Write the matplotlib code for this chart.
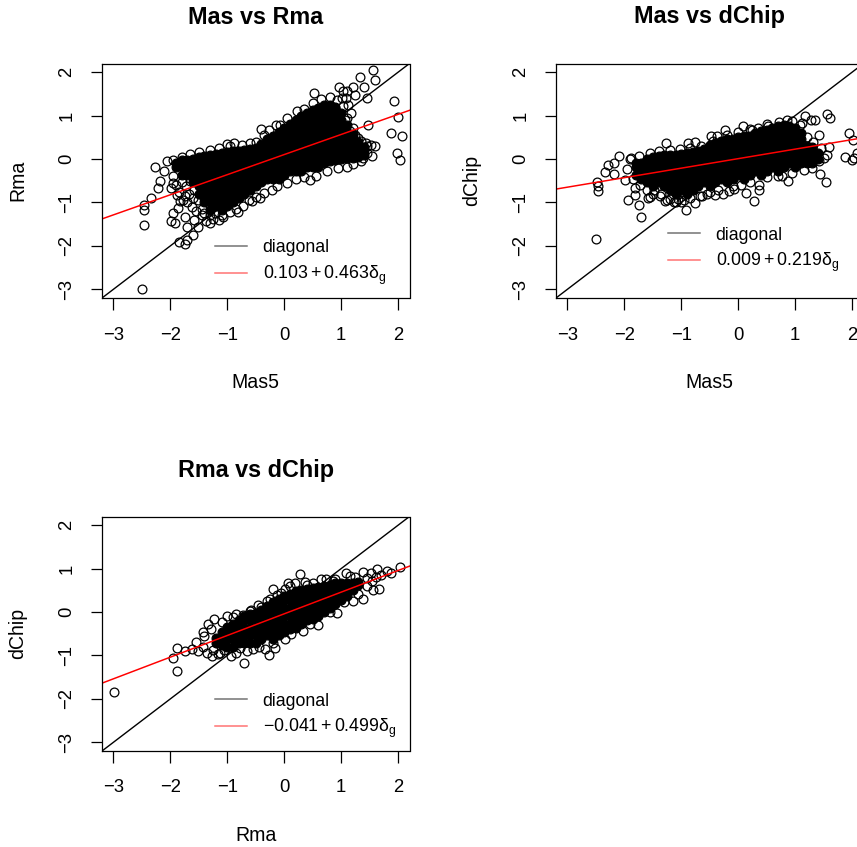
import matplotlib
matplotlib.use("Agg")
import matplotlib.pyplot as plt
from matplotlib.lines import Line2D

plt.rcParams['font.family'] = ['Liberation Sans', 'DejaVu Sans']
plt.rcParams['mathtext.fontset'] = 'custom'
plt.rcParams['mathtext.rm'] = 'Liberation Sans'
plt.rcParams['mathtext.it'] = 'Liberation Sans'
plt.rcParams['mathtext.bf'] = 'Liberation Sans:bold'
plt.rcParams['mathtext.fallback'] = 'stixsans'
plt.rcParams['mathtext.default'] = 'regular'

W, H = 857, 847
TICKS = [-3, -2, -1, 0, 1, 2]

# ---------- Mas vs Rma ----------
mr_columns = [-1.9, -1.8, -1.7, -1.6, -1.5, -1.4, -1.3, -1.2, -1.1, -1.0, -0.9, -0.8, -0.7, -0.6, -0.5,
              -0.4, -0.3, -0.2, -0.1, 0.0, 0.1, 0.2, 0.3, 0.4, 0.5, 0.6, 0.7, 0.8, 0.9, 1.0, 1.1, 1.2, 1.3, 1.4]
mr_core = [
    [-.18, -.09], [-.36, -.18, -.03], [-.36, -.27, -.09, -.02], [-.54, -.36, -.18, 0],
    [-.81, -.63, -.45, -.27, -.09, .05], [-1.0, -.90, -.72, -.54, -.36, -.18, 0, .08],
    [-1.17, -.99, -.81, -.63, -.45, -.27, -.09, .09], [-1.08, -.9, -.72, -.54, -.36, -.18, 0, .12],
    [-1.17, -.99, -.81, -.63, -.45, -.27, -.09, .09, .15], [-1.08, -.9, -.72, -.54, -.36, -.18, 0, .17],
    [-.99, -.81, -.63, -.45, -.27, -.09, .09, .18], [-.9, -.72, -.54, -.36, -.18, 0, .18],
    [-.81, -.63, -.45, -.27, -.09, .09, .2], [-.72, -.54, -.36, -.18, 0, .18, .22],
    [-.63, -.45, -.27, -.09, .09, .25], [-.54, -.36, -.18, 0, .18, .35],
    [-.45, -.27, -.09, .09, .27, .45], [-.45, -.36, -.18, 0, .18, .36, .54],
    [-.45, -.27, -.09, .09, .27, .45, .63], [-.36, -.18, 0, .18, .36, .54, .72],
    [-.27, -.09, .09, .27, .45, .63, .81], [-.27, -.18, 0, .18, .36, .54, .72, .9],
    [-.27, -.09, .09, .27, .45, .63, .81, .99], [-.18, 0, .18, .36, .54, .72, .9, 1.05],
    [-.18, -.09, .09, .27, .45, .63, .81, .99, 1.12], [-.18, 0, .18, .36, .54, .72, .9, 1.08, 1.18],
    [-.09, .09, .27, .45, .63, .81, .99, 1.17, 1.25], [-.05, 0, .18, .36, .54, .72, .9, 1.08, 1.25],
    [-.03, .09, .27, .45, .63, .81, .99, 1.17, 1.2], [0, .18, .36, .54, .72, .9, 1.05],
    [.02, .09, .27, .45, .63, .78], [.02, .18, .36, .5, .58], [.05, .09, .27, .4], [.1, .2, .28],
]
mr_ring_x = [-2.49, -2.46, -2.46, -2.47, -2.34, -2.21, -2.18, -2.27, -2.11, -2.05, -1.98, -1.92, -1.96, -1.84, -1.74,
             -1.70, -1.60, -1.71, -1.51, -1.58, -1.74, -1.86, -1.83, -1.88, -1.98, -1.95, -1.30, -1.07, -0.81, -0.57,
             -0.42, -0.22, 0.45, 1.11, -1.01, -0.88, -0.50, -0.41, -0.27, -0.08, 0.53, 0.96, 1.04, 1.11, 1.21,
             1.24, 1.09, 1.01, 1.46, 1.40, 1.33, 1.56, 1.60, 1.17, 1.06, 1.47, 1.21, 1.30, 1.12, 1.93,
             2.00, 1.87, 2.07, 1.98, 2.03, 1.59, 1.53, 1.44, 1.55, 1.39,
             -1.95, -1.90, -1.85, -1.75, -1.70, -1.62, -1.55, -1.45, -1.38, -1.25, -1.15, -0.95, -0.85, -0.72, -0.62,
             -0.50, -0.35, -0.12, 0.05, 0.20, 0.35, 0.55, 0.75, 0.95, 1.20, 1.35, 1.45,
             -1.95, -1.80, -1.65, -1.50, -1.30, -1.15, -0.95, -0.75, -0.60, -0.35, -0.15, 0.05, 0.22, 0.35, 0.50,
             0.65, 0.80, 0.92, 1.03, 1.10, 1.15, 1.25, 1.35, 1.45,
             -1.80, -1.72, -1.66, -1.58, -1.52, -1.78, -1.68, -1.60, -1.45, -1.40, -1.30, -1.22, -1.10]
mr_ring_y = [-3.00, -1.53, -1.17, -1.05, -0.90, -0.67, -0.51, -0.19, -0.27, -0.05, -1.43, -1.47, -1.24, -1.91, -1.95,
             -1.86, -1.74, -1.57, -1.57, -1.40, -1.34, -1.13, -0.97, -0.82, -0.67, -0.55, -1.47, -1.34, -1.22, -0.97,
             -0.90, -0.71, -0.48, -0.19, 0.35, 0.37, 0.39, 0.70, 0.67, 0.79, 1.52, 1.67, 1.56, 1.57, 1.66,
             1.48, 1.40, 1.40, 1.40, 1.66, 1.89, 2.06, 1.83, 1.06, 0.90, 0.79, 0.71, 0.48, 1.25, 1.33,
             0.97, 0.61, 0.54, 0.14, -0.02, 0.29, 0.33, 0.37, 0.06, 0.02,
             -0.40, -0.60, -0.75, -0.85, -1.00, -1.10, -1.20, -1.30, -1.42, -1.38, -1.40, -1.22, -1.15, -1.08, -0.95,
             -0.88, -0.78, -0.62, -0.55, -0.47, -0.42, -0.38, -0.28, -0.20, -0.12, -0.05, 0.15,
             -0.02, 0.05, 0.12, 0.17, 0.20, 0.25, 0.30, 0.32, 0.36, 0.55, 0.78, 0.95, 1.10, 1.15, 1.30,
             1.38, 1.42, 1.36, 1.22, 0.95, 0.65, 0.55, 0.42, 0.30,
             -0.52, -0.62, -0.50, -0.72, -0.95, -0.95, -0.80, -0.90, -1.15, -1.25, -1.30, -1.25, -1.28]

# ---------- Mas vs dChip ----------
md_columns = [-1.8, -1.7, -1.6, -1.5, -1.4, -1.3, -1.2, -1.1, -1.0, -0.9, -0.8, -0.7, -0.6, -0.5, -0.4, -0.3, -0.2,
              -0.1, 0.0, 0.1, 0.2, 0.3, 0.4, 0.5, 0.6, 0.7, 0.8, 0.9, 1.0, 1.1, 1.2, 1.3, 1.4]
md_core = [
    [-.36, -.18, -.08], [-.45, -.27, -.09], [-.54, -.36, -.18, 0], [-.63, -.45, -.27, -.09, .05],
    [-.54, -.36, -.18, 0, .08], [-.63, -.45, -.27, -.09, .09], [-.72, -.54, -.36, -.18, 0, .1],
    [-.81, -.63, -.45, -.27, -.09, .1], [-.72, -.54, -.36, -.18, 0, .12], [-.81, -.63, -.45, -.27, -.09, .09, .14],
    [-.72, -.54, -.36, -.18, 0, .16], [-.63, -.45, -.27, -.09, .09, .18], [-.54, -.36, -.18, 0, .18, .22],
    [-.63, -.45, -.27, -.09, .09, .27, .33], [-.54, -.36, -.18, 0, .18, .36], [-.45, -.27, -.09, .09, .27, .42],
    [-.54, -.36, -.18, 0, .18, .36, .45], [-.45, -.27, -.09, .09, .27, .45], [-.36, -.18, 0, .18, .36, .5],
    [-.45, -.27, -.09, .09, .27, .45, .52], [-.36, -.18, 0, .18, .36, .54], [-.27, -.09, .09, .27, .45, .6],
    [-.36, -.18, 0, .18, .36, .54, .65], [-.27, -.09, .09, .27, .45, .63, .68], [-.18, 0, .18, .36, .54, .72],
    [-.27, -.09, .09, .27, .45, .63, .75], [-.18, 0, .18, .36, .54, .72, .78], [-.09, .09, .27, .45, .63, .75],
    [-.18, 0, .18, .36, .54, .72], [-.09, .09, .27, .45, .6], [-.1, 0, .18, .3], [-.09, .09, .27], [0, .14],
]
md_ring_x = [-2.49, -2.46, -2.47, -2.48, -2.34, -2.19, -2.28, -2.19, -2.09, -1.88, -1.99, -1.93, -1.74, -1.70, -1.82,
             -1.81, -1.58, -1.29, -1.09, -0.92, -0.76, -0.64, -0.26, -0.16, 0.04, 0.13, 0.27, 0.36, 0.36, 0.87,
             0.77, 1.43, 1.54, -1.27, -0.89, -0.76, -0.48, -0.38, -0.24, 0.09, 0.21, 0.34, 0.52, 0.86, 1.18,
             1.27, 1.35, 1.12, 1.56, 1.61, 1.41, 1.94, 2.02, 1.87, 1.99, 2.03, 2.09, 1.59, 1.56, 1.50,
             -1.95, -1.85, -1.72, -1.60, -1.50, -1.38, -1.20, -1.05, -0.85, -0.68, -0.50, -0.35, -0.10, 0.20, 0.50,
             0.70, 0.95, 1.15, 1.30, 1.42, -1.90, -1.75, -1.55, -1.40, -1.20, -1.02, -0.85, -0.65, -0.45, -0.20,
             0.00, 0.25, 0.50, 0.72, 0.95, 1.08, 1.20, 1.32, 1.45,
             -1.55, -1.48, -1.35, -1.25, -1.12, -1.00, -0.95, -0.55, -0.40, -0.08]
md_ring_y = [-1.83, -0.73, -0.61, -0.53, -0.30, -0.34, -0.13, -0.09, 0.08, 0.02, -0.48, -0.94, -1.05, -1.34, -0.67,
             -0.82, -0.90, -0.97, -1.00, -1.17, -1.01, -0.86, -0.80, -0.73, -0.59, -0.78, -0.96, -0.71, -0.59, -0.50,
             -0.40, -0.34, -0.52, 0.36, 0.37, 0.39, 0.54, 0.52, 0.67, 0.77, 0.70, 0.71, 0.77, 0.89, 0.98,
             0.90, 0.89, 0.83, 1.04, 0.94, 0.56, 0.61, 0.43, 0.04, -0.02, 0.02, 0.14, 0.28, 0.10, 0.02,
             -0.22, -0.45, -0.60, -0.72, -0.80, -0.85, -0.92, -0.93, -0.90, -0.85, -0.75, -0.72, -0.62, -0.52, -0.42,
             -0.38, -0.32, -0.25, -0.20, -0.05, 0.00, 0.08, 0.15, 0.18, 0.20, 0.22, 0.26, 0.30, 0.42, 0.55,
             0.62, 0.68, 0.80, 0.85, 0.88, 0.78, 0.50, 0.40, 0.25,
             -0.88, -0.72, -0.80, -0.95, -0.98, -0.98, -0.95, -0.80, -0.82, -0.68]

# ---------- Rma vs dChip ----------
rd_columns = [-1.2, -1.1, -1.0, -0.9, -0.8, -0.7, -0.6, -0.5, -0.4, -0.3, -0.2, -0.1, 0.0, 0.1, 0.2, 0.3, 0.4, 0.5,
              0.6, 0.7, 0.8, 0.9, 1.0, 1.1, 1.2, 1.3]
rd_core = [
    [-.72, -.6], [-.75, -.6, -.45], [-.8, -.62, -.44, -.35], [-.81, -.63, -.45, -.27], [-.72, -.54, -.36, -.18],
    [-.72, -.54, -.36, -.18, -.1], [-.72, -.54, -.36, -.18, -.05], [-.72, -.54, -.36, -.18, -.02],
    [-.63, -.45, -.27, -.09, .05], [-.54, -.36, -.18, 0, .15], [-.63, -.45, -.27, -.09, .09, .22],
    [-.54, -.36, -.18, 0, .18, .3], [-.45, -.27, -.09, .09, .27, .36], [-.4, -.27, -.09, .09, .27, .42],
    [-.36, -.18, 0, .18, .36, .48], [-.27, -.09, .09, .27, .45, .5], [-.18, 0, .18, .36, .54],
    [-.16, -.03, .09, .27, .45, .55], [-.08, .09, .27, .45, .58], [0, .18, .36, .54, .6], [.1, .27, .45, .63],
    [.18, .36, .54, .66], [.28, .45, .63, .68], [.36, .54, .68], [.5, .66], [.62, .7],
]
rd_ring_x = [-2.99, -1.88, -1.95, -1.89, -1.74, -0.70, -0.27, -0.34, -1.27, -1.16, -0.94, -1.43, -1.33, -1.23, -1.01,
             -0.85, -0.58, -0.46, -0.31, -0.20, -0.05, 0.07, 0.19, 0.27, 0.36, 0.64, 0.73, 1.08, 1.39, 1.53,
             1.63, 1.81, 1.88, 2.03, 1.67, 1.56, 1.39, 1.20, 0.92, 0.60, 0.33, 0.01, -0.16,
             -1.62, -1.52, -1.42, -1.35, -1.25, -1.12, -1.05, -0.85, -0.78, -0.65, -0.55, -0.45, -0.20, 0.12, 0.45,
             0.80, 1.05, 1.30, 1.45, 1.55, 1.62, 1.70, 1.45, 1.25, 1.15, 0.90, 0.50, 0.10, -0.12,
             -1.55, -1.40, -1.28, -1.10, -0.90, -0.72, -0.60, -0.40, -0.25, 0.02, 0.40, 0.85]
rd_ring_y = [-1.83, -1.35, -1.05, -0.82, -0.90, -1.17, -0.98, -0.86, -1.01, -0.97, -1.01, -0.46, -0.28, -0.17, -0.10,
             -0.04, 0.04, 0.16, 0.25, 0.52, 0.44, 0.67, 0.67, 0.87, 0.70, 0.77, 0.77, 0.90, 0.92, 0.89,
             1.00, 0.94, 0.89, 1.04, 0.54, 0.51, 0.31, 0.25, -0.03, -0.30, -0.44, -0.63, -0.82,
             -0.85, -0.90, -0.80, -0.95, -0.88, -0.95, -0.88, -0.95, -0.82, -0.90, -0.85, -0.80, -0.72, -0.50, -0.28,
             0.00, 0.22, 0.42, 0.60, 0.72, 0.80, 0.85, 0.78, 0.80, 0.82, 0.76, 0.68, 0.60, 0.40,
             -0.70, -0.55, -0.40, -0.22, -0.12, -0.06, 0.02, 0.12, 0.30, 0.52, 0.62, 0.72]

titles = ["Mas vs Rma", "Mas vs dChip", "Rma vs dChip"]
xlabels = ["Mas5", "Mas5", "Rma"]
ylabels = ["Rma", "dChip", "dChip"]
intercepts = [0.103, 0.009, -0.041]
slopes = [0.463, 0.219, 0.499]
fit_labels = [r"$0.103+0.463\delta_{g}$", r"$0.009+0.219\delta_{g}$", r"$-0.041+0.499\delta_{g}$"]
diag_label = "diagonal"

panel_boxes = [(102, 63.5), (556, 63.5), (102, 516.5)]
legend_tops = [182 - 6, 169 - 6, 182 - 6]
legend_lefts = [113, 112, 113]
PW, PH = 307.5, 234.5

panels = [
    (mr_columns, mr_core, mr_ring_x, mr_ring_y),
    (md_columns, md_core, md_ring_x, md_ring_y),
    (rd_columns, rd_core, rd_ring_x, rd_ring_y),
]

fig = plt.figure(figsize=(W / 72, H / 72), dpi=72)
for i, (cols, core, rx, ry) in enumerate(panels):
    left, top = panel_boxes[i]
    ax = fig.add_axes([left / W, 1 - (top + PH) / H, PW / W, PH / H])
    ax.set_xlim(-3.2, 2.2)
    ax.set_ylim(-3.2, 2.2)
    # dense centre of the cloud, solid where the original's circles overlap to black
    cx = [c for c, ys in zip(cols, core) for _ in ys]
    cy = [y for ys in core for y in ys]
    ax.plot(cx, cy, ls='none', marker='o', ms=8.8, mfc='black', mec='black', mew=1.25)
    ax.plot(rx, ry, ls='none', marker='o', ms=8.8, mfc='none', mec='black', mew=1.25)
    ax.axline((0, 0), slope=1, color='black', lw=1.4)
    ax.axline((0, intercepts[i]), slope=slopes[i], color='#ff0000', lw=1.5)

    ax.set_xticks(TICKS)
    ax.set_yticks(TICKS)
    ax.set_xticklabels([str(t).replace('-', '\u2212') for t in TICKS])
    ax.set_yticklabels([str(t).replace('-', '\u2212') for t in TICKS], rotation=90, va='center')
    ax.tick_params(axis='both', length=11.5, width=1.25, labelsize=18.5)
    ax.tick_params(axis='x', pad=17)
    ax.tick_params(axis='y', pad=15)
    for s in ax.spines.values():
        s.set_linewidth(1.25)
    ax.set_title(titles[i], fontsize=23.4, fontweight='bold', pad=40)
    ax.set_xlabel(xlabels[i], fontsize=19.5)
    ax.xaxis.set_label_coords(0.5, -75 / PH)
    ax.set_ylabel(ylabels[i], fontsize=19.5)
    ax.yaxis.set_label_coords(-75 / PW, 0.5)

    handles = [Line2D([], [], color='#707070', lw=1.5), Line2D([], [], color='#ff7070', lw=1.5)]
    leg = ax.legend(handles, [diag_label, fit_labels[i]], frameon=False, fontsize=17.7,
                    loc='upper left', bbox_to_anchor=(legend_lefts[i] / PW, 1 - legend_tops[i] / PH),
                    borderpad=0, borderaxespad=0, handlelength=1.8, handletextpad=0.89, labelspacing=0.4)

fig.savefig("out.png", dpi=72)
